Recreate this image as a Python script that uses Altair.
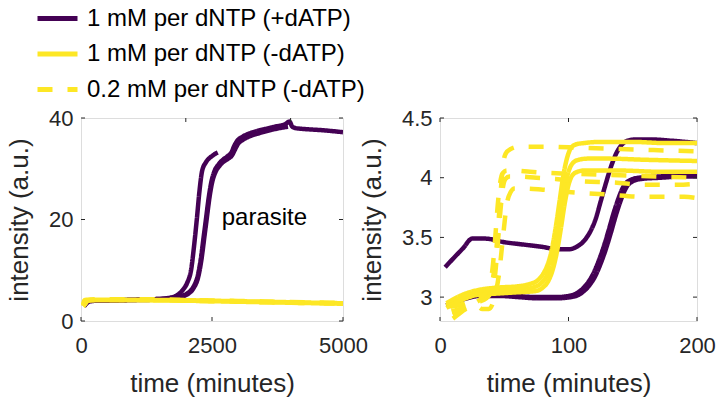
import altair as alt
import pandas as pd

FONT = "Liberation Sans"
AX = "#262626"
PURPLE = "#440154"
YELLOW = "#fde725"

conditions = ["1 mM per dNTP (+dATP)", "1 mM per dNTP (-dATP)", "0.2 mM per dNTP (-dATP)"]

# ---------------- left panel (long run, minutes / a.u.) ----------------
left_xticks = [0, 2500, 5000]
left_top_xticks = [2000, 4000]
left_yticks = [0, 20, 40]

lp1_t = [60, 100, 150, 300, 600, 1000, 1400, 1700, 1850, 1950, 2030, 2100, 2160, 2210, 2260, 2310, 2380, 2440, 2500, 2570, 2610]
lp1_y = [3.0, 3.6, 4.0, 4.1, 4.1, 4.2, 4.3, 4.6, 5.2, 6.2, 7.6, 10.0, 15.0, 20.0, 25.5, 29.5, 31.2, 32.0, 32.5, 33.0, 33.2]

lp2_t = [60, 100, 150, 300, 600, 1000, 1400, 1700, 1900, 2050, 2150, 2230, 2290, 2340, 2390, 2440, 2490, 2550, 2620, 2700, 2800, 2870, 2920, 2980, 3080, 3200, 3350, 3500, 3700, 3900, 3980, 4030, 4100, 4300, 4600, 5000]
lp2_y = [3.0, 3.5, 3.9, 4.1, 4.1, 4.2, 4.3, 4.5, 4.9, 5.6, 6.8, 9.0, 12.5, 16.5, 20.5, 24.5, 27.5, 29.6, 30.8, 31.7, 32.5, 33.2, 34.4, 35.5, 36.3, 36.9, 37.4, 37.8, 38.3, 38.8, 39.3, 38.3, 38.0, 37.8, 37.6, 37.2]

lp3_t = [60, 100, 150, 300, 600, 1000, 1400, 1700, 1900, 2050, 2150, 2240, 2300, 2350, 2400, 2450, 2500, 2560, 2630, 2710, 2810, 2880, 2930, 2990, 3090, 3220, 3400, 3650, 3950]
lp3_y = [2.9, 3.4, 3.8, 4.0, 4.0, 4.1, 4.2, 4.4, 4.8, 5.4, 6.5, 8.8, 12.2, 16.2, 20.2, 24.2, 27.2, 29.2, 30.4, 31.3, 32.0, 32.6, 33.6, 34.8, 35.7, 36.4, 37.0, 37.7, 38.3]

ls1_t = [40, 60, 90, 120, 160, 250, 500, 1000, 1500, 2000, 2500, 3000, 3500, 4000, 4500, 5000]
ls1_y = [3.0, 3.2, 3.6, 4.0, 4.15, 4.2, 4.2, 4.2, 4.15, 4.1, 4.0, 3.9, 3.8, 3.7, 3.6, 3.5]
ls2_t = [40, 60, 90, 120, 160, 250, 500, 1000, 1500, 2000, 2500, 3000, 3500, 4000, 4500, 5000]
ls2_y = [2.9, 3.1, 3.5, 3.9, 4.05, 4.1, 4.1, 4.1, 4.05, 4.0, 3.9, 3.8, 3.7, 3.6, 3.5, 3.4]

ld1_t = [40, 50, 60, 80, 120, 200, 500, 1000, 1500, 2000, 2500, 3000, 3500, 4000, 4500, 5000]
ld1_y = [3.2, 3.6, 4.0, 4.15, 4.2, 4.25, 4.3, 4.3, 4.25, 4.15, 4.05, 3.95, 3.85, 3.75, 3.65, 3.55]
ld2_t = [40, 50, 60, 80, 120, 200, 500, 1000, 1500, 2000, 2500, 3000, 3500, 4000, 4500, 5000]
ld2_y = [3.0, 3.4, 3.8, 4.0, 4.05, 4.1, 4.15, 4.15, 4.1, 4.0, 3.9, 3.8, 3.7, 3.6, 3.5, 3.45]

annot_t = [3500]
annot_y = [19]
annot_text = ["parasite"]

# ---------------- right panel (first 200 minutes) ----------------
right_xticks = [0, 100, 200]
right_yticks = [3, 3.5, 4, 4.5]

rp1_t = [4, 10, 18, 25, 35, 50, 65, 80, 92, 100, 106, 112, 117, 121, 125, 129, 133, 137, 141, 146, 152, 165, 180, 200]
rp1_y = [3.25, 3.32, 3.41, 3.49, 3.49, 3.46, 3.44, 3.42, 3.40, 3.40, 3.42, 3.47, 3.55, 3.65, 3.80, 3.95, 4.09, 4.20, 4.27, 4.31, 4.32, 4.32, 4.31, 4.29]

rp2_t = [5, 12, 20, 30, 45, 60, 75, 90, 100, 106, 111, 115, 119, 123, 127, 131, 135, 139, 143, 148, 155, 170, 185, 200]
rp2_y = [2.93, 2.97, 3.0, 3.02, 3.02, 3.01, 3.0, 3.0, 3.01, 3.03, 3.07, 3.12, 3.19, 3.29, 3.41, 3.55, 3.70, 3.83, 3.93, 3.98, 4.0, 4.01, 4.02, 4.02]
rp3_t = [6, 13, 21, 31, 46, 61, 76, 91, 102, 108, 113, 117, 121, 125, 129, 133, 137, 141, 145, 150, 157, 172, 187, 200]
rp3_y = [2.92, 2.96, 2.99, 3.01, 3.01, 3.0, 2.99, 2.99, 3.0, 3.02, 3.06, 3.11, 3.18, 3.28, 3.40, 3.54, 3.69, 3.82, 3.92, 3.97, 3.99, 4.0, 4.01, 4.01]

rs1_t = [5, 10, 20, 30, 45, 60, 70, 76, 80, 84, 87, 90, 93, 96, 99, 102, 106, 112, 125, 150, 175, 200]
rs1_y = [2.95, 2.98, 3.03, 3.06, 3.08, 3.09, 3.11, 3.14, 3.19, 3.28, 3.40, 3.58, 3.80, 4.02, 4.17, 4.25, 4.28, 4.29, 4.30, 4.30, 4.29, 4.29]
rs2_t = [5, 10, 20, 30, 45, 60, 72, 78, 82, 86, 89, 92, 95, 98, 101, 104, 108, 115, 130, 160, 200]
rs2_y = [2.93, 2.96, 3.01, 3.04, 3.05, 3.06, 3.08, 3.11, 3.16, 3.26, 3.40, 3.58, 3.79, 3.97, 4.08, 4.13, 4.15, 4.16, 4.16, 4.15, 4.14]
rs3_t = [5, 10, 20, 30, 45, 60, 74, 80, 84, 88, 91, 94, 97, 100, 103, 107, 112, 120, 140, 170, 200]
rs3_y = [2.91, 2.94, 2.99, 3.02, 3.03, 3.04, 3.05, 3.08, 3.13, 3.24, 3.38, 3.57, 3.78, 3.94, 4.02, 4.05, 4.06, 4.06, 4.06, 4.05, 4.05]

rd1_t = [10, 15, 22, 30, 36, 40, 43, 45, 47, 49, 51, 55, 62, 80, 110, 140, 170, 200]
rd1_y = [2.82, 2.86, 2.92, 2.97, 3.02, 3.10, 3.30, 3.55, 3.85, 4.10, 4.20, 4.24, 4.26, 4.26, 4.25, 4.24, 4.23, 4.22]
rd2_t = [8, 14, 20, 28, 34, 38, 41, 43, 45, 47, 49, 52, 58, 70, 85, 110, 140, 170, 200]
rd2_y = [2.92, 2.93, 2.95, 2.98, 3.02, 3.08, 3.25, 3.50, 3.78, 3.97, 4.04, 4.06, 4.06, 4.05, 4.04, 4.03, 4.02, 4.01, 4.0]
rd3_t = [10, 16, 22, 28, 33, 38, 42, 46, 49, 52, 55, 58, 65, 80, 100, 130, 160, 190, 200]
rd3_y = [2.85, 2.88, 2.91, 2.93, 2.90, 2.90, 2.98, 3.20, 3.50, 3.78, 3.88, 3.91, 3.91, 3.90, 3.88, 3.86, 3.84, 3.84, 3.83]
rd4_t = [9, 15, 22, 30, 36, 40, 43, 45, 47, 49, 51, 54, 60, 75, 90, 110, 135, 160, 185, 200]
rd4_y = [2.88, 2.90, 2.93, 2.96, 2.99, 3.05, 3.20, 3.45, 3.72, 3.92, 3.99, 4.01, 4.01, 4.0, 3.99, 3.97, 3.96, 3.94, 3.94, 3.95]


def traces(cond, items):
    frames = []
    for name, ts, ys in items:
        frames.append(pd.DataFrame({"t": ts, "y": ys, "trace": name, "cond": cond}))
    return pd.concat(frames, ignore_index=True)


W_L, W_R, H = 262, 257, 203
TICK_FS, TITLE_FS, LEGEND_FS = 22, 26, 24

legend = alt.Legend(
    title=None, orient="none", legendX=-36, legendY=-112, padding=0,
    symbolType="M-2,0H2", symbolSize=400, symbolStrokeWidth=5,
    labelFont=FONT, labelFontSize=LEGEND_FS, labelColor="black", labelLimit=500,
    labelOffset=17, rowPadding=10.5,
)


def color_enc(show):
    return alt.Color("cond:N", scale=alt.Scale(domain=conditions, range=[PURPLE, YELLOW, YELLOW]),
                     legend=legend if show else None)


def dash_enc(show):
    return alt.StrokeDash("cond:N", scale=alt.Scale(domain=conditions, range=[[1, 0], [1, 0], [15, 15]]),
                          legend=legend if show else None)


def axis_x(values):
    return alt.Axis(values=values, format=".4~g", title="time (minutes)", domain=False, ticks=False, grid=False,
                    labelFont=FONT, labelFontSize=TICK_FS, labelColor=AX, labelPadding=14, labelFlush=False,
                    labelOverlap=False, titleFont=FONT, titleFontSize=TITLE_FS, titleColor=AX,
                    titleFontWeight="normal", titlePadding=14)


def axis_y(values):
    return alt.Axis(values=values, format=".4~g", title="intensity (a.u.)", domain=False, ticks=False, grid=False,
                    labelFont=FONT, labelFontSize=TICK_FS, labelColor=AX, labelPadding=8, labelOverlap=False,
                    titleFont=FONT, titleFontSize=TITLE_FS, titleColor=AX, titleFontWeight="normal",
                    titlePadding=16)


def panel(W, xdom, ydom, xticks, top_xticks, yticks, purple, solid, dashed, show_legend, annot=None):
    x_enc = alt.X("t:Q", scale=alt.Scale(domain=xdom, nice=False, zero=False), axis=axis_x(xticks))
    y_enc = alt.Y("y:Q", scale=alt.Scale(domain=ydom, nice=False, zero=False), axis=axis_y(yticks))
    layers = []
    for df in (purple, solid, dashed):
        layers.append(
            alt.Chart(df).mark_line(strokeWidth=4.5, interpolate="monotone", clip=True).encode(
                x=x_enc, y=y_enc, detail="trace:N", color=color_enc(show_legend), strokeDash=dash_enc(show_legend))
        )
    tick_style = dict(color=AX, strokeWidth=1)
    layers.append(alt.Chart(pd.DataFrame({"t": xticks})).mark_rule(**tick_style).encode(
        x=x_enc, y=alt.value(H), y2=alt.value(H - 4)))
    layers.append(alt.Chart(pd.DataFrame({"t": top_xticks})).mark_rule(**tick_style).encode(
        x=x_enc, y=alt.value(0), y2=alt.value(4)))
    layers.append(alt.Chart(pd.DataFrame({"y": yticks})).mark_rule(**tick_style).encode(
        y=y_enc, x=alt.value(0), x2=alt.value(4)))
    layers.append(alt.Chart(pd.DataFrame({"y": yticks})).mark_rule(**tick_style).encode(
        y=y_enc, x=alt.value(W), x2=alt.value(W - 4)))
    if annot is not None:
        layers.append(alt.Chart(annot).mark_text(font=FONT, fontSize=LEGEND_FS, color="black", align="center",
                                                 baseline="alphabetic").encode(x=x_enc, y=y_enc, text="label:N"))
    return alt.layer(*layers).properties(width=W, height=H)


left = panel(
    W_L, [0, 5000], [0, 40], left_xticks, left_top_xticks, left_yticks,
    traces(conditions[0], [("lp1", lp1_t, lp1_y), ("lp2", lp2_t, lp2_y), ("lp3", lp3_t, lp3_y)]),
    traces(conditions[1], [("ls1", ls1_t, ls1_y), ("ls2", ls2_t, ls2_y)]),
    traces(conditions[2], [("ld1", ld1_t, ld1_y), ("ld2", ld2_t, ld2_y)]),
    True,
    annot=pd.DataFrame({"t": annot_t, "y": annot_y, "label": annot_text}),
)

right = panel(
    W_R, [0, 200], [2.8, 4.5], right_xticks, right_xticks, right_yticks,
    traces(conditions[0], [("rp1", rp1_t, rp1_y), ("rp2", rp2_t, rp2_y), ("rp3", rp3_t, rp3_y)]),
    traces(conditions[1], [("rs1", rs1_t, rs1_y), ("rs2", rs2_t, rs2_y), ("rs3", rs3_t, rs3_y)]),
    traces(conditions[2], [("rd1", rd1_t, rd1_y), ("rd2", rd2_t, rd2_y), ("rd3", rd3_t, rd3_y), ("rd4", rd4_t, rd4_y)]),
    False,
)

chart = (
    alt.hconcat(left, right, spacing=97, bounds="flush")
    .resolve_scale(color="independent", strokeDash="independent")
    .properties(padding={"left": 6, "top": 5, "right": 0, "bottom": 2}, background="white")
    .configure_view(stroke=AX, strokeWidth=1)
    .configure(font=FONT)
)

chart.save("out.html", embed_options={"renderer": "svg", "actions": False})
